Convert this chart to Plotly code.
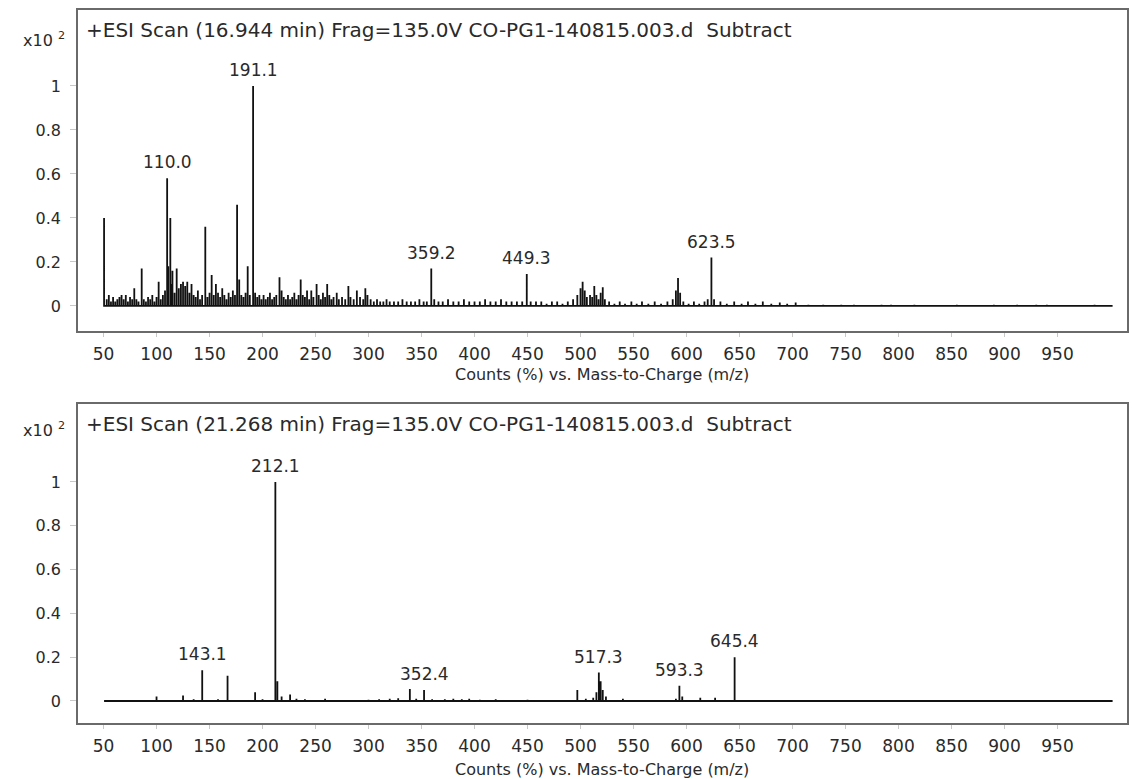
import plotly.graph_objects as go

# ---------------- data ----------------
top_title = "+ESI Scan (16.944 min) Frag=135.0V CO-PG1-140815.003.d\u00a0\u00a0Subtract"
bot_title = "+ESI Scan (21.268 min) Frag=135.0V CO-PG1-140815.003.d\u00a0\u00a0Subtract"
x_title = "Counts (%) vs. Mass-to-Charge (m/z)"

x_tick_vals = [50, 100, 150, 200, 250, 300, 350, 400, 450, 500, 550, 600, 650, 700, 750, 800, 850, 900, 950]
y_tick_vals = [0, 0.2, 0.4, 0.6, 0.8, 1.0]
y_tick_text = ["0", "0.2", "0.4", "0.6", "0.8", "1"]

top_mz = [50.5, 53, 55, 57, 59, 61, 63, 65, 67, 69, 71, 73, 75, 77, 79, 81, 83, 86, 88, 90,
          92, 94, 96, 98, 100, 102, 104, 106, 108, 110.0, 111, 113, 114, 115, 117, 119, 121, 123, 125, 127,
          129, 131, 133, 135, 137, 139, 141, 143, 146, 148, 150, 152, 154, 156, 158, 160, 162, 164, 166, 168,
          170, 172, 174, 176, 178, 180, 182, 184, 186, 188, 191.1, 193, 195, 197, 199, 201, 203, 205, 207, 209,
          211, 213, 216, 218, 220, 222, 224, 226, 228, 230, 232, 234, 236, 238, 240, 242, 244, 246, 248, 251,
          253, 255, 257, 259, 261, 263, 265, 267, 270, 272, 275, 278, 281, 283, 286, 289, 292, 295, 297, 299,
          302, 305, 308, 311, 314, 317, 320, 324, 328, 332, 336, 340, 344, 348, 352, 355, 359.2, 362, 366, 370,
          375, 380, 385, 390, 395, 400, 405, 410, 415, 420, 425, 430, 435, 440, 445, 449.3, 453, 458, 463, 468,
          473, 478, 483, 488, 493, 497, 500, 502, 504, 506, 509, 511, 513, 515, 517, 519, 521, 523, 527, 532,
          537, 542, 548, 553, 558, 564, 570, 576, 582, 587, 590, 592, 594, 597, 602, 607, 612, 617, 620, 623.5,
          626, 632, 638, 645, 652, 658, 665, 672, 680, 688, 695, 703, 715, 729, 746, 758, 784, 793, 815, 855,
          890, 912, 930, 940, 985, 1002]
top_int = [0.40, 0.03, 0.05, 0.02, 0.04, 0.02, 0.03, 0.04, 0.05, 0.03, 0.05, 0.02, 0.04, 0.03, 0.08, 0.03, 0.02, 0.17, 0.03, 0.02,
           0.04, 0.03, 0.05, 0.02, 0.04, 0.11, 0.03, 0.05, 0.07, 0.58, 0.18, 0.40, 0.10, 0.16, 0.06, 0.17, 0.08, 0.10, 0.11, 0.09,
           0.11, 0.06, 0.10, 0.05, 0.04, 0.07, 0.03, 0.05, 0.36, 0.04, 0.06, 0.14, 0.05, 0.10, 0.06, 0.04, 0.08, 0.05, 0.03, 0.06,
           0.04, 0.07, 0.05, 0.46, 0.12, 0.05, 0.04, 0.06, 0.18, 0.05, 1.00, 0.06, 0.04, 0.05, 0.03, 0.05, 0.03, 0.04, 0.06, 0.03,
           0.04, 0.05, 0.13, 0.07, 0.04, 0.03, 0.05, 0.03, 0.04, 0.06, 0.03, 0.05, 0.12, 0.05, 0.04, 0.07, 0.03, 0.07, 0.04, 0.10,
           0.05, 0.03, 0.06, 0.04, 0.10, 0.05, 0.03, 0.04, 0.06, 0.03, 0.04, 0.03, 0.09, 0.04, 0.03, 0.07, 0.04, 0.03, 0.08, 0.05,
           0.03, 0.02, 0.03, 0.02, 0.02, 0.03, 0.02, 0.02, 0.02, 0.03, 0.02, 0.02, 0.02, 0.03, 0.02, 0.02, 0.17, 0.03, 0.02, 0.02,
           0.03, 0.02, 0.02, 0.03, 0.02, 0.02, 0.02, 0.03, 0.02, 0.02, 0.03, 0.02, 0.02, 0.02, 0.02, 0.145, 0.02, 0.02, 0.02, 0.01,
           0.02, 0.02, 0.01, 0.02, 0.03, 0.05, 0.08, 0.11, 0.07, 0.04, 0.05, 0.04, 0.09, 0.05, 0.03, 0.06, 0.085, 0.03, 0.02, 0.01,
           0.02, 0.01, 0.02, 0.01, 0.02, 0.01, 0.02, 0.01, 0.02, 0.03, 0.07, 0.127, 0.06, 0.02, 0.01, 0.02, 0.01, 0.02, 0.03, 0.22,
           0.03, 0.02, 0.01, 0.02, 0.01, 0.02, 0.01, 0.02, 0.01, 0.015, 0.01, 0.015, 0.005, 0.005, 0.005, 0.005, 0.005, 0.005, 0.005, 0.005,
           0.005, 0.005, 0.005, 0.005, 0.005, 0.0]

bot_mz = [50.5, 100, 112, 125, 135, 143.1, 150, 158, 167, 180, 193, 200, 212.1, 214, 218, 226, 232, 240, 250, 259,
          270, 285, 300, 310, 320, 328, 339, 345, 352.4, 360, 372, 380, 388, 395, 405, 420, 435, 450, 470, 485,
          497, 505, 512, 515, 517.3, 519, 521, 524, 530, 540, 560, 575, 590, 593.3, 596, 603, 613, 620, 627, 635,
          645.4, 655, 686, 780, 1002]
bot_int = [0.0, 0.02, 0.005, 0.025, 0.008, 0.14, 0.005, 0.008, 0.115, 0.005, 0.04, 0.008, 1.00, 0.09, 0.02, 0.03, 0.01, 0.008, 0.005, 0.01,
           0.005, 0.005, 0.006, 0.008, 0.01, 0.012, 0.055, 0.01, 0.05, 0.008, 0.008, 0.01, 0.008, 0.01, 0.006, 0.008, 0.005, 0.006, 0.005, 0.004,
           0.05, 0.01, 0.015, 0.04, 0.13, 0.09, 0.05, 0.02, 0.005, 0.01, 0.005, 0.004, 0.01, 0.07, 0.02, 0.005, 0.015, 0.005, 0.015, 0.004,
           0.20, 0.004, 0.005, 0.003, 0.0]

top_label_mz = [110.0, 191.1, 359.2, 449.3, 623.5]
top_label_int = [0.58, 1.00, 0.17, 0.145, 0.22]
bot_label_mz = [143.1, 212.1, 352.4, 517.3, 593.3, 645.4]
bot_label_int = [0.14, 1.00, 0.05, 0.13, 0.07, 0.20]

# ---------------- figure ----------------
W, H = 1132, 779
FONT = "DejaVu Sans"
TXT = "#2a2a2a"


def sticks(mz, inten):
    xs, ys = [], []
    for m, h in zip(mz, inten):
        xs += [m, m, m]
        ys += [0, h, 0]
    return xs, ys


fig = go.Figure()
tx, ty = sticks(top_mz, top_int)
bx, by = sticks(bot_mz, bot_int)
fig.add_trace(go.Scatter(x=tx, y=ty, mode="lines", line=dict(color="#111", width=1.8),
                         xaxis="x", yaxis="y", showlegend=False, hoverinfo="skip"))
fig.add_trace(go.Scatter(x=bx, y=by, mode="lines", line=dict(color="#111", width=1.8),
                         xaxis="x2", yaxis="y2", showlegend=False, hoverinfo="skip"))

xdom = [78 / W, 1127 / W]
xrange_ = [25.9, 1015.6]

axis_common = dict(showline=True, mirror=True, linecolor="#6a6a6a", linewidth=1.5,
                   showgrid=False, zeroline=False, ticks="outside", tickcolor="#c8c8c8")
xfont = dict(family=FONT, size=17, color=TXT)
yfont = dict(family=FONT, size=16, color=TXT)

fig.update_layout(
    width=W, height=H,
    margin=dict(l=0, r=0, t=0, b=0),
    paper_bgcolor="white", plot_bgcolor="white",
    showlegend=False,
    xaxis=dict(domain=xdom, range=xrange_, anchor="y", tickvals=x_tick_vals, tickfont=xfont,
               ticklen=4, ticklabelstandoff=3, **axis_common),
    yaxis=dict(domain=[1 - 331 / H, 1 - 10 / H], range=[-0.114, 1.345], anchor="x", tickfont=yfont,
               tickvals=y_tick_vals, ticktext=y_tick_text, ticklen=6, ticklabelstandoff=6, **axis_common),
    xaxis2=dict(domain=xdom, range=xrange_, anchor="y2", tickvals=x_tick_vals, tickfont=xfont,
                ticklen=4, ticklabelstandoff=3, **axis_common),
    yaxis2=dict(domain=[1 - 723 / H, 1 - 404 / H], range=[-0.1005, 1.356], anchor="x2", tickfont=yfont,
                tickvals=y_tick_vals, ticktext=y_tick_text, ticklen=6, ticklabelstandoff=6, **axis_common),
)

ann = []
for title, yc in [(top_title, 30), (bot_title, 424)]:
    ann.append(dict(text=title, xref="paper", yref="paper", x=84 / W, y=1 - yc / H,
                    xanchor="left", yanchor="middle", showarrow=False,
                    font=dict(family=FONT, size=20, color=TXT)))
for yc in [40, 430]:
    ann.append(dict(text="x10 <sup>2</sup>", xref="paper", yref="paper", x=67 / W, y=1 - yc / H,
                    xanchor="right", yanchor="middle", showarrow=False,
                    font=dict(family=FONT, size=16, color=TXT)))
for yc in [374, 769]:
    ann.append(dict(text=x_title, xref="paper", yref="paper", x=602 / W, y=1 - yc / H,
                    xanchor="center", yanchor="middle", showarrow=False,
                    font=dict(family=FONT, size=16, color=TXT)))
for m, h in zip(top_label_mz, top_label_int):
    ann.append(dict(text=f"{m:.1f}", xref="x", yref="y", x=m, y=h, xanchor="center", yanchor="bottom",
                    yshift=4, showarrow=False, font=dict(family=FONT, size=17, color=TXT)))
for m, h in zip(bot_label_mz, bot_label_int):
    ann.append(dict(text=f"{m:.1f}", xref="x2", yref="y2", x=m, y=h, xanchor="center", yanchor="bottom",
                    yshift=4, showarrow=False, font=dict(family=FONT, size=17, color=TXT)))
fig.update_layout(annotations=ann)

fig.write_html("out.html", config={"displayModeBar": False},
               post_script="document.body.style.margin='0px';")
